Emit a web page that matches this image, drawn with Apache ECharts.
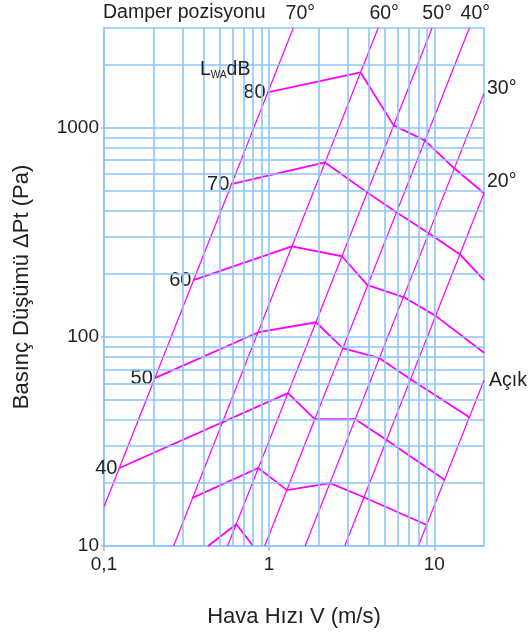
<!DOCTYPE html>
<html><head><meta charset="utf-8">
<script src="https://cdn.jsdelivr.net/npm/echarts@6/dist/echarts.min.js"></script>
<style>html,body{margin:0;padding:0;background:#fff}#c{width:528px;height:634px}</style>
</head><body><div id="c"></div>
<script>
// ---- axis ticks & grid values ----
const xTickValues = [0.1, 1, 10];
const xTickLabels = ['0,1', '1', '10'];
const yTickValues = [10, 100, 1000];
const yTickLabels = ['10', '100', '1000'];
const xGridValues = [0.2,0.3,0.4,0.5,0.6,0.7,0.8,0.9,1,2,3,4,5,6,7,8,9,10];
const yGridValues = [20,30,40,50,60,70,80,90,100,200,300,400,500,600,700,800,900,1000,2000];

// ---- damper position lines [V (m/s), dP (Pa)] ----
const damperNames = ['70°','60°','50°','40°','30°','20°','Açık'];
const damper70 = [[0.1,15.4],[1.40,3000]];
const damper60 = [[0.264,10],[4.57,3000]];
const damper50 = [[0.56,10],[9.7,3000]];
const damper40 = [[0.94,10],[16.3,3000]];
const damper30 = [[1.65,10],[20,1460]];
const damper20 = [[2.87,10],[20,486]];
const damperAcik = [[8.0,10],[20,62]];
const damperData = [damper70, damper60, damper50, damper40, damper30, damper20, damperAcik];

// ---- sound power level curves LWA dB [V, dP] ----
const curveNames = ['80','70','60','50','40','30','20'];
const curve80 = [[0.979,1476],[3.58,1839],[5.67,1027],[8.75,870],[13.2,640],[20,486]];
const curve70 = [[0.590,537],[2.18,683],[3.92,491],[5.89,394],[9.26,313],[14.3,248],[20,187]];
const curve60 = [[0.348,187],[1.37,271],[2.76,243],[3.94,177],[6.52,155],[10.2,126],[20,84]];
const curve50 = [[0.203,63.5],[0.855,105],[1.92,117.5],[2.79,88.3],[4.66,79.1],[7.19,62.8],[16.3,41.3]];
const curve40 = [[0.124,23.6],[1.30,53.8],[1.89,40.4],[3.33,40.4],[5.14,32.1],[11.6,20.7]];
const curve30 = [[0.343,17.0],[0.86,23.6],[1.28,18.5],[2.34,20.0],[3.75,17.1],[9.0,12.6]];
const curve20 = [[0.427,10],[0.632,12.7],[0.80,10]];
const curveData = [curve80, curve70, curve60, curve50, curve40, curve30, curve20];
const curveLabelShown = [true, true, true, true, true, false, false];

// ---- styles ----
const F = '"Liberation Sans", Arial, sans-serif';
const GRID = '#8ec5f6';
const MAG = '#ff00ff';
const TXT = '#222';
const damperLabelStyle = {
  '70°': {position:'top', distance:4, offset:[7,0]},
  '60°': {position:'top', distance:4, offset:[6,0]},
  '50°': {position:'top', distance:4, offset:[5,0]},
  '40°': {position:'top', distance:4, offset:[6,0]},
  '30°': {position:'right', distance:3, offset:[0,-5]},
  '20°': {position:'right', distance:3, offset:[0,-12]},
  'Açık': {position:'right', distance:5, offset:[0,0]}
};

function lookup(vals, labels, v){
  for (let i=0;i<vals.length;i++){ if (Math.abs(Math.log10(vals[i]) - Math.log10(v)) < 1e-6) return labels[i]; }
  return '';
}

const series = [];
series.push({
  type:'line', data:[], silent:true, z:1, animation:false,
  markLine:{ silent:true, symbol:['none','none'], animation:false,
    label:{show:false}, lineStyle:{color:GRID, width:1.6, type:'solid'},
    emphasis:{disabled:true},
    data: xGridValues.map(v=>({xAxis:v})).concat(yGridValues.map(v=>({yAxis:v})))
  }
});
damperData.forEach((d,i)=>{
  const nm = damperNames[i];
  const st = damperLabelStyle[nm];
  series.push({
    type:'line', name:nm, z:3, animation:false, clip:false, silent:true,
    symbol:'circle', symbolSize:0, showSymbol:true,
    lineStyle:{color:MAG, width:1.2},
    itemStyle:{color:MAG},
    data: d.map((p,j)=> j===d.length-1 ? {value:p, label:{show:true, formatter:nm, position:st.position, distance:st.distance, offset:st.offset, fontSize:19.5, fontFamily:F, color:TXT}} : {value:p})
  });
});
curveData.forEach((d,i)=>{
  const nm = curveNames[i];
  series.push({
    type:'line', name:'L'+nm, z:4, animation:false, clip:false, silent:true,
    symbol:'circle', symbolSize:0, showSymbol:true,
    lineStyle:{color:MAG, width:1.8},
    itemStyle:{color:MAG},
    data: d.map((p,j)=> (j===0 && curveLabelShown[i]) ? {value:p, label:{show:true, formatter:nm, position:'left', distance:2, fontSize:20, fontFamily:F, color:TXT}} : {value:p})
  });
});

const option = {
  animation:false,
  backgroundColor:'#fff',
  textStyle:{fontFamily:F},
  title:{text:'Damper pozisyonu', left:103, top:3, padding:0,
    textStyle:{fontSize:19.5, fontWeight:'normal', color:TXT, fontFamily:F}},
  grid:{left:104, right:44, top:28, bottom:88, show:true, borderColor:GRID, borderWidth:1.6, backgroundColor:'transparent'},
  xAxis:{type:'log', logBase:10, min:0.1, max:20,
    name:'Hava Hızı V (m/s)', nameLocation:'middle', nameGap:60,
    nameTextStyle:{fontSize:22, color:TXT, fontFamily:F},
    axisLine:{show:true, lineStyle:{color:GRID, width:1.6}},
    axisTick:{show:true, customValues:xTickValues, length:5, lineStyle:{color:GRID, width:1.6}},
    axisLabel:{customValues:xTickValues, margin:9, fontSize:19, color:TXT, fontFamily:F,
      formatter:v=>lookup(xTickValues, xTickLabels, v)},
    splitLine:{show:false}, minorTick:{show:false}, minorSplitLine:{show:false}},
  yAxis:{type:'log', logBase:10, min:10, max:3000,
    name:'Basınç Düşümü ΔPt (Pa)', nameLocation:'middle', nameGap:71,
    nameTextStyle:{fontSize:22, color:TXT, fontFamily:F},
    axisLine:{show:true, lineStyle:{color:GRID, width:1.6}},
    axisTick:{show:true, customValues:yTickValues, length:3, lineStyle:{color:GRID, width:1.6}},
    axisLabel:{customValues:yTickValues, margin:5, fontSize:19, color:TXT, fontFamily:F,
      formatter:v=>lookup(yTickValues, yTickLabels, v)},
    splitLine:{show:false}, minorTick:{show:false}, minorSplitLine:{show:false}},
  graphic:[{type:'text', left:200, top:60, silent:true, z:10,
    style:{text:'{a|L}{b|WA}{a|dB}', rich:{
      a:{fontSize:19.5, fontFamily:F, fill:TXT, verticalAlign:'bottom', lineHeight:22},
      b:{fontSize:10, fontFamily:F, fill:TXT, verticalAlign:'bottom', lineHeight:12}}}}],
  series: series
};
const chart = echarts.init(document.getElementById('c'), null, {renderer:'canvas'});
chart.setOption(option);
</script></body></html>
